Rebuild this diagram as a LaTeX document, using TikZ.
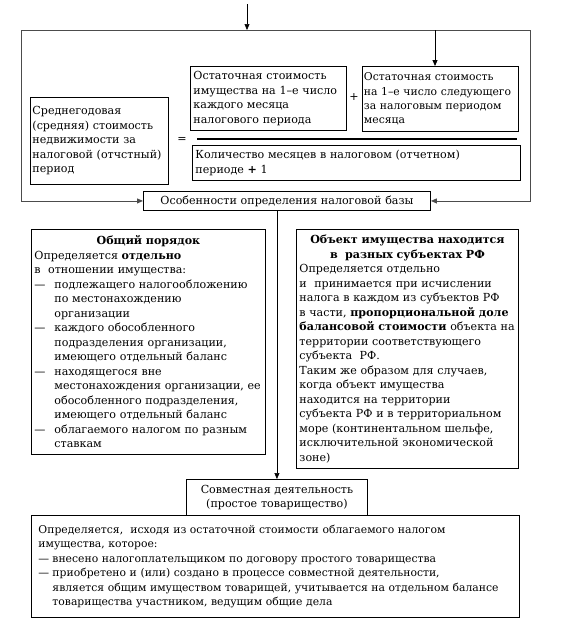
\documentclass[tikz,border=0pt]{standalone}
\usepackage{fontspec}
\setmainfont{DejaVu Serif}
\usepackage{tikz}
\usetikzlibrary{arrows.meta}
\newcommand{\nbfont}{\fontsize{11.1}{14.5}\selectfont}
\newcommand{\nbsmall}{\fontsize{10.8}{14.4}\selectfont}
\newcommand{\nbdash}[1][20pt]{\makebox[#1][l]{—}}
\newcommand{\nbind}[1][20pt]{\hspace*{#1}}
\newcommand{\nbhead}[1]{\makebox[\linewidth][c]{\textbf{#1}}}
\tikzset{
  nbbox/.style={
    draw,
    line width=0.9pt,
    anchor=north west,
    align=left,
    inner xsep=3pt,
    inner ysep=0pt,
    font=\nbfont
  },
  nbframe/.style={draw=black!70, line width=0.8pt},
  nbflow/.style={-{Triangle[length=6pt,width=5pt]}, line width=0.9pt}
}

\begin{document}
\begin{tikzpicture}[x=1pt,y=-1pt]
  \useasboundingbox (0,0) rectangle (560,629);
  % formula block
  \node[nbbox, text width=150pt, minimum height=64pt] (ostA) at (190,66)
    {Остаточная стоимость\\имущества на 1–е число\\каждого месяца\\налогового периода};
  \node[nbbox, font=\nbsmall, text width=153pt, inner xsep=1.5pt, minimum height=65pt] (ostB) at (362,66)
    {Остаточная стоимость\\на 1–е число следующего\\за налоговым периодом\\месяца};
  \node[nbbox, text width=134pt, inner xsep=2pt, minimum height=87pt] (sred) at (30,97)
    {Среднегодовая\\(средняя) стоимость\\недвижимости за\\налоговой (отчстный)\\период};
  \node[nbbox, text width=322pt, minimum height=35pt] (kol) at (192,145)
    {Количество месяцев в налоговом (отчетном)\\периоде \textbf{+} 1};
  \node[font=\nbfont] (plus) at (354,97) {+};
  \node[font=\nbfont] (eq) at (182,140) {=};
  \draw[line width=1.2pt] ([xshift=5pt,yshift=6pt]kol.north west) -- ([xshift=-4pt,yshift=6pt]kol.north east);
  \node[nbbox, align=center, text width=281pt, minimum height=19pt] (osob) at (143,191)
    {Особенности определения налоговой базы};
  % frame round the formula
  \coordinate (ftl) at (21,30);
  \coordinate (ftr) at (530,30);
  \coordinate (tick) at (247,4);
  \coordinate (fdown) at (435,30);
  \draw[nbframe] (ftl) -- (ftr);
  \draw[nbframe, nbflow] (ftl) |- (osob.west);
  \draw[nbframe, nbflow] (ftr) |- (osob.east);
  \draw[nbflow, line width=0.5pt] (tick) -- (tick |- ftl);
  \draw[nbflow] (fdown) -- (fdown |- ostB.north);
  % two ways
  \node[nbbox, text width=228pt, minimum height=225pt] (common) at (31,229)
    {\nbhead{Общий порядок}\\
     Определяется \textbf{отдельно}\\
     в~ отношении имущества:\\
     \nbdash подлежащего налогообложению\\
     \nbind по местонахождению\\
     \nbind организации\\
     \nbdash каждого обособленного\\
     \nbind подразделения организации,\\
     \nbind имеющего отдельный баланс\\
     \nbdash находящегося вне\\
     \nbind местонахождения организации, ее\\
     \nbind обособленного подразделения,\\
     \nbind имеющего отдельный баланс\\
     \nbdash облагаемого налогом по разным\\
     \nbind ставкам};
  \node[nbbox, text width=216pt, minimum height=239pt] (region) at (296,229)
    {\nbhead{Объект имущества находится}\\
     \nbhead{в~ разных субъектах РФ}\\
     Определяется отдельно\\
     и~ принимается при исчислении\\
     налога в каждом из субъектов РФ\\
     в части, \textbf{пропорциональной доле}\\
     \textbf{балансовой стоимости} объекта на\\
     территории соответствующего\\
     субъекта~ РФ.\\
     Таким же образом для случаев,\\
     когда объект имущества\\
     находится на территории\\
     субъекта РФ и в территориальном\\
     море (континентальном шельфе,\\
     исключительной экономической\\
     зоне)};
  % joint activity
  \node[nbbox, align=center, text width=175pt, minimum height=36pt] (sovm) at (186,479)
    {Совместная деятельность\\(простое товарищество)};
  \node[nbbox, font=\nbsmall, text width=474pt, inner xsep=7pt, minimum height=102pt] (joint) at (31,515)
    {Определяется,~ исходя из остаточной стоимости облагаемого налогом\\
     имущества, которое:\\
     \nbdash[14pt]внесено налогоплательщиком по договору простого товарищества\\
     \nbdash[14pt]приобретено и (или) создано в процессе совместной деятельности,\\
     \nbind[14pt]является общим имуществом товарищей, учитывается на отдельном балансе\\
     \nbind[14pt]товарищества участником, ведущим общие дела};
  \draw[nbflow, line width=0.6pt] (sovm.north |- osob.south) -- (sovm.north);
\end{tikzpicture}
\end{document}
